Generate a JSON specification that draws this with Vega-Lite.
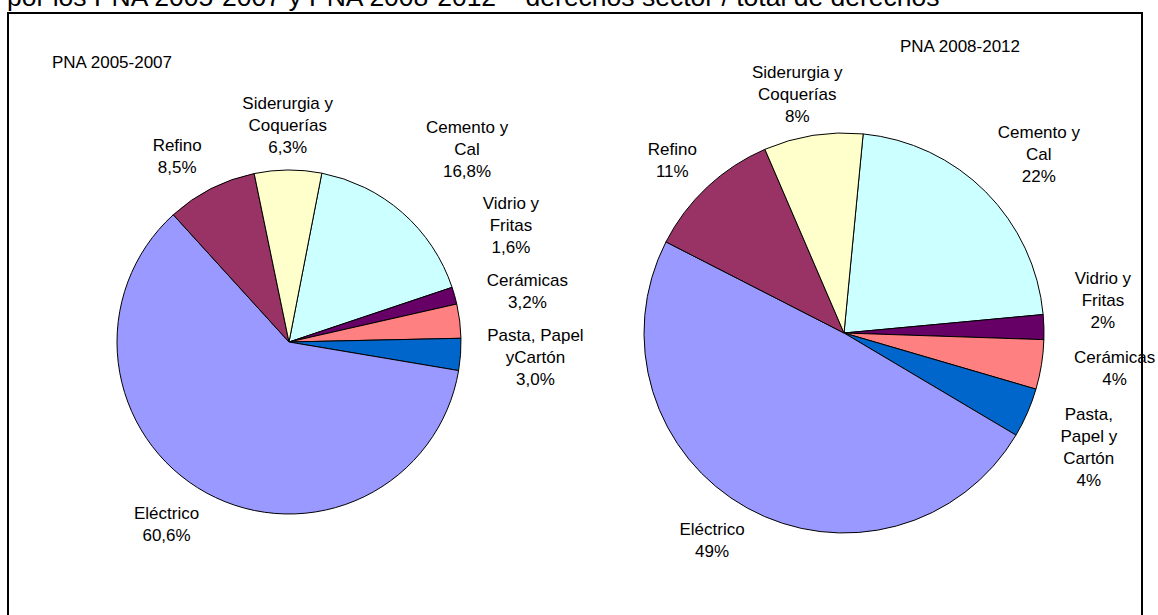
{
  "$schema": "https://vega.github.io/schema/vega-lite/v6.json",
  "width": 1134,
  "height": 610,
  "autosize": "none",
  "padding": {"left": 8, "top": 13, "right": 16, "bottom": 0},
  "background": "white",
  "title": {
    "text": "por los PNA 2005-2007 y PNA 2008-2012  – derechos sector / total de derechos",
    "anchor": "start",
    "frame": "group",
    "font": "Liberation Sans",
    "fontSize": 26.5,
    "fontWeight": "normal",
    "color": "black",
    "baseline": "alphabetic",
    "offset": -19,
    "dx": -1
  },
  "datasets": {
    "sectores": [
      {"pna": "PNA 2005-2007", "orden": 1, "sector": "Cemento y Cal", "valor": 16.8, "etiqueta": "Cemento y\nCal\n16,8%"},
      {"pna": "PNA 2005-2007", "orden": 2, "sector": "Vidrio y Fritas", "valor": 1.6, "etiqueta": "Vidrio y\nFritas\n1,6%"},
      {"pna": "PNA 2005-2007", "orden": 3, "sector": "Cerámicas", "valor": 3.2, "etiqueta": "Cerámicas\n3,2%"},
      {"pna": "PNA 2005-2007", "orden": 4, "sector": "Pasta, Papel y Cartón", "valor": 3.0, "etiqueta": "Pasta, Papel\nyCartón\n3,0%"},
      {"pna": "PNA 2005-2007", "orden": 5, "sector": "Eléctrico", "valor": 60.6, "etiqueta": "Eléctrico\n60,6%"},
      {"pna": "PNA 2005-2007", "orden": 6, "sector": "Refino", "valor": 8.5, "etiqueta": "Refino\n8,5%"},
      {"pna": "PNA 2005-2007", "orden": 7, "sector": "Siderurgia y Coquerías", "valor": 6.3, "etiqueta": "Siderurgia y\nCoquerías\n6,3%"},
      {"pna": "PNA 2008-2012", "orden": 1, "sector": "Cemento y Cal", "valor": 22, "etiqueta": "Cemento y\nCal\n22%"},
      {"pna": "PNA 2008-2012", "orden": 2, "sector": "Vidrio y Fritas", "valor": 2, "etiqueta": "Vidrio y\nFritas\n2%"},
      {"pna": "PNA 2008-2012", "orden": 3, "sector": "Cerámicas", "valor": 4, "etiqueta": "Cerámicas\n4%"},
      {"pna": "PNA 2008-2012", "orden": 4, "sector": "Pasta, Papel y Cartón", "valor": 4, "etiqueta": "Pasta,\nPapel y\nCartón\n4%"},
      {"pna": "PNA 2008-2012", "orden": 5, "sector": "Eléctrico", "valor": 49, "etiqueta": "Eléctrico\n49%"},
      {"pna": "PNA 2008-2012", "orden": 6, "sector": "Refino", "valor": 11, "etiqueta": "Refino\n11%"},
      {"pna": "PNA 2008-2012", "orden": 7, "sector": "Siderurgia y Coquerías", "valor": 8, "etiqueta": "Siderurgia y\nCoquerías\n8%"}
    ]
  },
  "data": {"name": "sectores"},
  "encoding": {
    "x": {"field": "pna", "type": "nominal", "axis": null,
      "scale": {"type": "point", "padding": 0, "domain": ["PNA 2005-2007", "PNA 2008-2012"], "range": [281, 836]}},
    "y": {"field": "pna", "type": "nominal", "axis": null,
      "scale": {"type": "point", "padding": 0, "domain": ["PNA 2005-2007", "PNA 2008-2012"], "range": [329, 320]}}
  },
  "layer": [
    {
      "transform": [{"filter": "datum.pna == 'PNA 2005-2007'"}],
      "encoding": {
        "theta": {"field": "valor", "type": "quantitative", "stack": true,
          "scale": {"range": [0.19199, 6.47518]}},
        "order": {"field": "orden", "type": "quantitative"},
        "detail": {"field": "sector", "type": "nominal"}
      },
      "layer": [
        {
          "mark": {"type": "arc", "outerRadius": 172, "stroke": "black", "strokeWidth": 1},
          "encoding": {
            "color": {"field": "sector", "type": "nominal", "legend": null,
              "scale": {
                "domain": ["Cemento y Cal", "Vidrio y Fritas", "Cerámicas", "Pasta, Papel y Cartón", "Eléctrico", "Refino", "Siderurgia y Coquerías"],
                "range": ["#CCFFFF", "#660066", "#FF8080", "#0066CC", "#9999FF", "#993366", "#FFFFCC"]}}
          }
        },
        {
          "mark": {"type": "text", "radius": 220, "dy": -18, "font": "Liberation Sans", "fontSize": 17, "lineHeight": 22, "lineBreak": "\n", "align": "center", "baseline": "middle", "color": "black"},
          "encoding": {"text": {"condition": {"test": "datum.sector == 'Siderurgia y Coquerías'", "field": "etiqueta"}, "value": ""}}
        },
        {
          "mark": {"type": "text", "radius": 220, "dx": -12, "font": "Liberation Sans", "fontSize": 17, "lineHeight": 22, "lineBreak": "\n", "align": "center", "baseline": "middle", "color": "black"},
          "encoding": {"text": {"condition": {"test": "datum.sector == 'Refino'", "field": "etiqueta"}, "value": ""}}
        },
        {
          "mark": {"type": "text", "radius": 220, "dx": -17, "dy": -21, "font": "Liberation Sans", "fontSize": 17, "lineHeight": 22, "lineBreak": "\n", "align": "center", "baseline": "middle", "color": "black"},
          "encoding": {"text": {"condition": {"test": "datum.sector == 'Eléctrico'", "field": "etiqueta"}, "value": ""}}
        },
        {
          "mark": {"type": "text", "radius": 220, "dx": 27, "dy": -22, "font": "Liberation Sans", "fontSize": 17, "lineHeight": 22, "lineBreak": "\n", "align": "center", "baseline": "middle", "color": "black"},
          "encoding": {"text": {"condition": {"test": "datum.sector == 'Pasta, Papel y Cartón'", "field": "etiqueta"}, "value": ""}}
        },
        {
          "mark": {"type": "text", "radius": 264, "dx": 4, "dy": -15, "font": "Liberation Sans", "fontSize": 17, "lineHeight": 22, "lineBreak": "\n", "align": "center", "baseline": "middle", "color": "black"},
          "encoding": {"text": {"condition": {"test": "datum.sector == 'Cemento y Cal'", "field": "etiqueta"}, "value": ""}}
        },
        {
          "mark": {"type": "text", "radius": 218, "dx": 12, "dy": -79, "font": "Liberation Sans", "fontSize": 17, "lineHeight": 22, "lineBreak": "\n", "align": "center", "baseline": "middle", "color": "black"},
          "encoding": {"text": {"condition": {"test": "datum.sector == 'Vidrio y Fritas'", "field": "etiqueta"}, "value": ""}}
        },
        {
          "mark": {"type": "text", "radius": 218, "dx": 22, "dy": -34, "font": "Liberation Sans", "fontSize": 17, "lineHeight": 22, "lineBreak": "\n", "align": "center", "baseline": "middle", "color": "black"},
          "encoding": {"text": {"condition": {"test": "datum.sector == 'Cerámicas'", "field": "etiqueta"}, "value": ""}}
        }
      ]
    },
    {
      "transform": [{"filter": "datum.pna == 'PNA 2008-2012'"}],
      "encoding": {
        "theta": {"field": "valor", "type": "quantitative", "stack": true,
          "scale": {"range": [0.09599, 6.37918]}},
        "order": {"field": "orden", "type": "quantitative"},
        "detail": {"field": "sector", "type": "nominal"}
      },
      "layer": [
        {
          "mark": {"type": "arc", "outerRadius": 200, "stroke": "black", "strokeWidth": 1},
          "encoding": {"color": {"field": "sector", "type": "nominal", "legend": null}}
        },
        {
          "mark": {"type": "text", "radius": 244, "dx": -9, "dy": -19, "font": "Liberation Sans", "fontSize": 17, "lineHeight": 22, "lineBreak": "\n", "align": "center", "baseline": "middle", "color": "black"},
          "encoding": {"text": {"condition": {"test": "datum.sector == 'Siderurgia y Coquerías'", "field": "etiqueta"}, "value": ""}}
        },
        {
          "mark": {"type": "text", "radius": 244, "dx": -5, "dy": -5, "font": "Liberation Sans", "fontSize": 17, "lineHeight": 22, "lineBreak": "\n", "align": "center", "baseline": "middle", "color": "black"},
          "encoding": {"text": {"condition": {"test": "datum.sector == 'Refino'", "field": "etiqueta"}, "value": ""}}
        },
        {
          "mark": {"type": "text", "radius": 244, "dx": -14, "dy": -17, "font": "Liberation Sans", "fontSize": 17, "lineHeight": 22, "lineBreak": "\n", "align": "center", "baseline": "middle", "color": "black"},
          "encoding": {"text": {"condition": {"test": "datum.sector == 'Eléctrico'", "field": "etiqueta"}, "value": ""}}
        },
        {
          "mark": {"type": "text", "radius": 268, "dx": 5, "dy": -11, "font": "Liberation Sans", "fontSize": 17, "lineHeight": 22, "lineBreak": "\n", "align": "center", "baseline": "middle", "color": "black"},
          "encoding": {"text": {"condition": {"test": "datum.sector == 'Cemento y Cal'", "field": "etiqueta"}, "value": ""}}
        },
        {
          "mark": {"type": "text", "radius": 268, "dx": 6, "dy": -17, "font": "Liberation Sans", "fontSize": 17, "lineHeight": 22, "lineBreak": "\n", "align": "center", "baseline": "middle", "color": "black"},
          "encoding": {"text": {"condition": {"test": "datum.sector == 'Cerámicas'", "field": "etiqueta"}, "value": ""}}
        },
        {
          "mark": {"type": "text", "radius": 268, "dx": -1, "dy": -25, "font": "Liberation Sans", "fontSize": 17, "lineHeight": 22, "lineBreak": "\n", "align": "center", "baseline": "middle", "color": "black"},
          "encoding": {"text": {"condition": {"test": "datum.sector == 'Pasta, Papel y Cartón'", "field": "etiqueta"}, "value": ""}}
        },
        {
          "mark": {"type": "text", "radius": 240, "dx": 19, "dy": -47, "font": "Liberation Sans", "fontSize": 17, "lineHeight": 22, "lineBreak": "\n", "align": "center", "baseline": "middle", "color": "black"},
          "encoding": {"text": {"condition": {"test": "datum.sector == 'Vidrio y Fritas'", "field": "etiqueta"}, "value": ""}}
        }
      ]
    },
    {
      "data": {"values": [{"pna": "PNA 2005-2007"}]},
      "mark": {"type": "text", "dx": -177, "dy": -274, "font": "Liberation Sans", "fontSize": 17, "align": "center", "baseline": "alphabetic", "color": "black"},
      "encoding": {"text": {"field": "pna", "type": "nominal"}}
    },
    {
      "data": {"values": [{"pna": "PNA 2008-2012"}]},
      "mark": {"type": "text", "dx": 116, "dy": -281, "font": "Liberation Sans", "fontSize": 17, "align": "center", "baseline": "alphabetic", "color": "black"},
      "encoding": {"text": {"field": "pna", "type": "nominal"}}
    }
  ],
  "resolve": {"scale": {"theta": "independent"}},
  "config": {
    "view": {"stroke": "black", "strokeWidth": 2}
  }
}
